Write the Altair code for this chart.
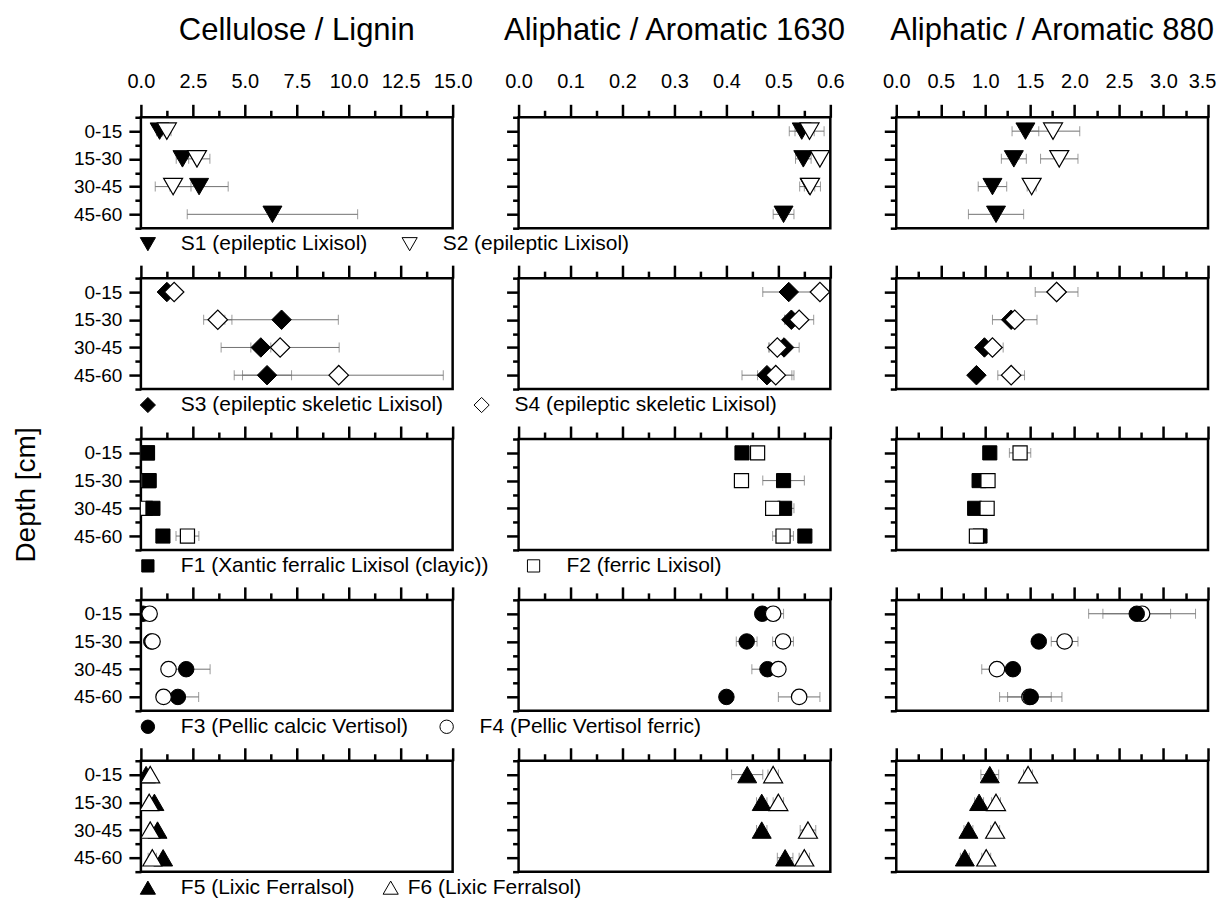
import numpy as np
import pandas as pd
import altair as alt

# ---------------- data ----------------
depths = ["0-15", "15-30", "30-45", "45-60"]
metric_keys = ["CL", "A1630", "A880"]
metric_titles = ["Cellulose / Lignin", "Aliphatic / Aromatic 1630", "Aliphatic / Aromatic 880"]
pairs = [("S1", "S2"), ("S3", "S4"), ("F1", "F2"), ("F3", "F4"), ("F5", "F6")]
legend_labels = {
    "S1": "S1 (epileptic Lixisol)", "S2": "S2 (epileptic Lixisol)",
    "S3": "S3 (epileptic skeletic Lixisol)", "S4": "S4 (epileptic skeletic Lixisol)",
    "F1": "F1 (Xantic ferralic Lixisol (clayic))", "F2": "F2 (ferric Lixisol)",
    "F3": "F3 (Pellic calcic Vertisol)", "F4": "F4 (Pellic Vertisol ferric)",
    "F5": "F5 (Lixic Ferralsol)", "F6": "F6 (Lixic Ferralsol)",
}

# Cellulose / Lignin
cl_mean = {
    "S1": [0.9, 2.0, 2.8, 6.33], "S2": [1.25, 2.7, 1.55, None],
    "S3": [1.25, 6.77, 5.77, 6.07], "S4": [1.6, 3.7, 6.7, 9.52],
    "F1": [0.32, 0.4, 0.58, 1.06], "F2": [0.3, 0.35, 0.2, 2.24],
    "F3": [0.1, 0.5, 2.18, 1.78], "F4": [0.42, 0.56, 1.33, 1.09],
    "F5": [0.25, 0.65, 0.8, 1.07], "F6": [0.45, 0.4, 0.45, 0.55],
}
cl_sd = {
    "S1": [0.15, 0.3, 1.4, 4.1], "S2": [0.2, 0.62, 0.86, None],
    "S3": [0.2, 2.73, 0.48, 1.18], "S4": [0.15, 0.68, 2.84, 5.03],
    "F1": [0.05, 0.05, 0.05, 0.08], "F2": [0.05, 0.05, 0.12, 0.55],
    "F3": [0.05, 0.05, 1.15, 1.0], "F4": [0.12, 0.12, 0.1, 0.12],
    "F5": [0.05, 0.08, 0.08, 0.1], "F6": [0.1, 0.1, 0.1, 0.2],
}
# Aliphatic / Aromatic 1630
a1630_mean = {
    "S1": [0.545, 0.548, 0.56, 0.51], "S2": [0.56, 0.58, 0.561, None],
    "S3": [0.52, 0.525, 0.511, 0.478], "S4": [0.58, 0.54, 0.498, 0.495],
    "F1": [0.43, 0.51, 0.512, 0.551], "F2": [0.46, 0.429, 0.489, 0.509],
    "F3": [0.469, 0.439, 0.479, 0.4], "F4": [0.49, 0.509, 0.5, 0.54],
    "F5": [0.44, 0.468, 0.468, 0.513], "F6": [0.49, 0.5, 0.557, 0.55],
}
a1630_sd = {
    "S1": [0.024, 0.015, 0.01, 0.02], "S2": [0.028, 0.005, 0.02, None],
    "S3": [0.05, 0.012, 0.029, 0.048], "S4": [0.005, 0.028, 0.016, 0.035],
    "F1": [0.01, 0.04, 0.018, 0.01], "F2": [0.01, 0.008, 0.012, 0.02],
    "F3": [0.01, 0.02, 0.03, 0.005], "F4": [0.02, 0.02, 0.01, 0.04],
    "F5": [0.03, 0.01, 0.01, 0.015], "F6": [0.01, 0.01, 0.015, 0.01],
}
# Aliphatic / Aromatic 880
a880_mean = {
    "S1": [1.45, 1.32, 1.08, 1.12], "S2": [1.76, 1.83, 1.52, None],
    "S3": [1.8, 1.29, 0.99, 0.9], "S4": [1.8, 1.33, 1.08, 1.29],
    "F1": [1.05, 0.93, 0.88, 0.94], "F2": [1.39, 1.03, 1.02, 0.9],
    "F3": [2.7, 1.6, 1.31, 1.51], "F4": [2.76, 1.89, 1.13, 1.495],
    "F5": [1.05, 0.93, 0.81, 0.77], "F6": [1.48, 1.12, 1.11, 1.01],
}
a880_sd = {
    "S1": [0.15, 0.14, 0.16, 0.31], "S2": [0.3, 0.21, 0.05, None],
    "S3": [0.05, 0.05, 0.05, 0.03], "S4": [0.24, 0.25, 0.12, 0.15],
    "F1": [0.03, 0.03, 0.03, 0.03], "F2": [0.12, 0.06, 0.07, 0.06],
    "F3": [0.38, 0.05, 0.06, 0.35], "F4": [0.6, 0.15, 0.17, 0.245],
    "F5": [0.1, 0.05, 0.05, 0.05], "F6": [0.05, 0.05, 0.05, 0.05],
}
means = {"CL": cl_mean, "A1630": a1630_mean, "A880": a880_mean}
sds = {"CL": cl_sd, "A1630": a1630_sd, "A880": a880_sd}

rows = []
for m in metric_keys:
    for prof in means[m]:
        for i, d in enumerate(depths):
            v = means[m][prof][i]
            s = sds[m][prof][i]
            if v is None:
                continue
            rows.append({"metric": m, "profile": prof, "depth": d, "yi": i,
                         "mean": v, "lo": v - s, "hi": v + s})
df = pd.DataFrame(rows)

# ---------------- styling ----------------
FONT = "Liberation Sans"
W, H = 312, 111
x_domains = {"CL": (0, 15), "A1630": (0, 0.6), "A880": (0, 3.5)}
x_major = {"CL": 2.5, "A1630": 0.1, "A880": 0.5}
row_shapes = ["triangle-down", "diamond", "square", "circle", "triangle-up"]
row_sizes = [360, 380, 200, 240, 360]
leg_sizes = [230, 230, 150, 180, 230]
leg2_x = [269, 341, 393, 306, 250]
leg2_gap = [33, 33, 33, 33, 17]
filled_on_top = {(2, 0), (3, 2)}
GRAY = "#707070"


def x_axis(m, show_labels):
    step = x_major[m]
    lo, hi = x_domains[m]
    vals = [round(v, 6) for v in np.arange(lo, hi + 1e-9, step / 2)]
    test = f"abs(datum.value/{step} - round(datum.value/{step})) < 1e-6"
    kw = dict(orient="top", values=vals, title=None, domain=False, grid=False,
              tickColor="black", tickWidth=2.5,
              tickSize={"condition": {"test": test, "value": 13}, "value": 7},
              labelOverlap=False, labelFlush=False, labelBound=False)
    if show_labels:
        kw.update(labelExpr=f"{test} ? format(datum.value, '.1f') : ''",
                  labelFont=FONT, labelFontSize=20, labelColor="black", labelPadding=13)
        if m == "A880":
            kw.update(labelOffset={"condition": {"test": f"datum.value >= {hi} - 1e-6",
                                                 "value": -6}, "value": 0})
    else:
        kw.update(labels=False)
    return alt.Axis(**kw)


def y_axis(show_labels, title):
    vals = [v / 2 for v in range(-1, 8)]
    test = "abs(datum.value - round(datum.value)) < 1e-6"
    arr = "[" + ",".join(f"'{d}'" for d in depths) + "]"
    kw = dict(orient="left", values=vals, domain=False, grid=False,
              tickColor="black", tickWidth=2.5,
              tickSize={"condition": {"test": test, "value": 12}, "value": 6},
              labelOverlap=False, labelFlush=False, labelBound=False)
    if show_labels:
        kw.update(labelExpr=f"{test} ? {arr}[datum.value] : ''", labelFont=FONT,
                  labelFontSize=19, labelColor="black", labelPadding=7)
    else:
        kw.update(labels=False)
    if title:
        kw.update(title=title, titleFont=FONT, titleFontSize=28, titleFontWeight="normal",
                  titleColor="black", titlePadding=33)
    else:
        kw.update(title=None)
    return alt.Axis(**kw)


panels = []
for r, (pa, pb) in enumerate(pairs):
    for c, m in enumerate(metric_keys):
        sub = df[(df.metric == m) & (df.profile.isin([pa, pb]))]
        xs = alt.Scale(domain=list(x_domains[m]), nice=False, zero=False)
        ys = alt.Scale(domain=[-0.5, 3.5], reverse=True, nice=False, zero=False)
        xa = x_axis(m, r == 0)
        ya = y_axis(c == 0, "Depth [cm]" if (c == 0 and r == 2) else None)
        Y = alt.Y("yi:Q", scale=ys, axis=ya)
        base = alt.Chart(sub)
        err = base.mark_rule(color=GRAY, strokeWidth=1, clip=True).encode(
            x=alt.X("lo:Q", scale=xs, axis=xa), x2="hi:Q", y=Y)
        cap_lo = base.mark_tick(orient="vertical", size=10, thickness=1, color=GRAY,
                                clip=True).encode(x=alt.X("lo:Q", scale=xs, axis=xa), y=Y)
        cap_hi = base.mark_tick(orient="vertical", size=10, thickness=1, color=GRAY,
                                clip=True).encode(x=alt.X("hi:Q", scale=xs, axis=xa), y=Y)
        filled = base.transform_filter(alt.datum.profile == pa).mark_point(
            shape=row_shapes[r], size=row_sizes[r], filled=True, fill="black",
            stroke="black", strokeWidth=1, opacity=1, clip=True).encode(
            x=alt.X("mean:Q", scale=xs, axis=xa), y=Y)
        hollow = base.transform_filter(alt.datum.profile == pb).mark_point(
            shape=row_shapes[r], size=row_sizes[r], filled=True, fill="white",
            stroke="black", strokeWidth=1.2, opacity=1, clip=True).encode(
            x=alt.X("mean:Q", scale=xs, axis=xa), y=Y)
        if (r, c) in filled_on_top:
            layers = [err, cap_lo, cap_hi, hollow, filled]
        else:
            layers = [err, cap_lo, cap_hi, filled, hollow]
        if c == 0:
            ly = H + 16
            items = [(pa, 7, 33, "black"), (pb, leg2_x[r], leg2_gap[r], "white")]
            for prof, sx, gap, fillc in items:
                one = alt.Chart(pd.DataFrame({"t": [legend_labels[prof]]}))
                layers.append(one.mark_point(shape=row_shapes[r], size=leg_sizes[r], filled=True,
                                             fill=fillc, stroke="black", strokeWidth=1,
                                             opacity=1).encode(
                    x=alt.value(sx), y=alt.value(ly)))
                layers.append(one.mark_text(align="left", baseline="middle", font=FONT,
                                            fontSize=21, color="black").encode(
                    x=alt.value(sx + gap), y=alt.value(ly), text="t:N"))
        p = alt.layer(*layers).properties(width=W, height=H)
        if r == 0:
            p = p.properties(title=alt.TitleParams(metric_titles[c], font=FONT, fontSize=31,
                                                   fontWeight="normal", color="black",
                                                   anchor="middle", offset=24))
        panels.append(p)

chart = alt.concat(*panels, columns=3, spacing={"row": 50, "column": 66}, bounds="flush")
chart = chart.properties(padding={"left": 3, "top": 5, "right": 0, "bottom": 0},
                         background="white")
chart = chart.configure_view(stroke="black", strokeWidth=2.5)

chart.save("out.html", embed_options={"renderer": "svg", "actions": False})
